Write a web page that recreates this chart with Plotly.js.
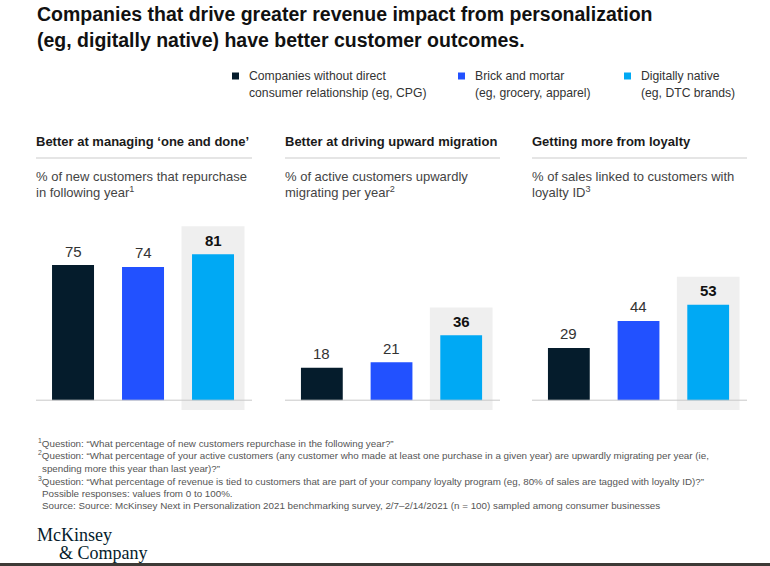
<!DOCTYPE html>
<html>
<head>
<meta charset="utf-8">
<script src="https://cdn.plot.ly/plotly-3.0.1.min.js"></script>
<style>
  html, body { margin: 0; padding: 0; background: #ffffff; }
  #chart { width: 770px; height: 566px; }
</style>
</head>
<body>
<div id="chart"></div>
<script>
// ---------------- DATA ----------------
const categories = ['Companies without direct consumer relationship', 'Brick and mortar', 'Digitally native'];
const legendLines = [
  ['Companies without direct', 'consumer relationship (eg, CPG)'],
  ['Brick and mortar', '(eg, grocery, apparel)'],
  ['Digitally native', '(eg, DTC brands)']
];
const colors = ['#051c2c', '#2251ff', '#00a9f4'];

const panelTitles = [
  'Better at managing ‘one and done’',
  'Better at driving upward migration',
  'Getting more from loyalty'
];
const panelSubtitles = [
  ['% of new customers that repurchase', 'in following year<sup>1</sup>'],
  ['% of active customers upwardly', 'migrating per year<sup>2</sup>'],
  ['% of sales linked to customers with', 'loyalty ID<sup>3</sup>']
];
const repurchase = [75, 74, 81];
const upwardMigration = [18, 21, 36];
const loyaltySales = [29, 44, 53];
const panelValues = [repurchase, upwardMigration, loyaltySales];

const titleLines = [
  'Companies that drive greater revenue impact from personalization',
  '(eg, digitally native) have better customer outcomes.'
];
const footnotes = [
  ['<sup>1</sup>', 'Question: “What percentage of new customers repurchase in the following year?”'],
  ['<sup>2</sup>', 'Question: “What percentage of your active customers (any customer who made at least one purchase in a given year) are upwardly migrating per year (ie,'],
  ['', 'spending more this year than last year)?”'],
  ['<sup>3</sup>', 'Question: “What percentage of revenue is tied to customers that are part of your company loyalty program (eg, 80% of sales are tagged with loyalty ID)?”'],
  ['', 'Possible responses: values from 0 to 100%.'],
  ['', 'Source: Source: McKinsey Next in Personalization 2021 benchmarking survey, 2/7–2/14/2021 (n = 100) sampled among consumer businesses']
];
const logoLines = ['McKinsey', '&amp; Company'];

// ---------------- LAYOUT HELPERS ----------------
const W = 770, H = 566;
const px = x => x / W;
const py = y => 1 - y / H;
const FONT = 'Liberation Sans, Arial, sans-serif';

const panelX = [[36, 252], [285, 500], [532, 747]];
const plotTop = 215, plotBottom = 411;
const highlightIndex = 2;
const highlightPad = 15.5;

const traces = [];
const shapes = [];
const annotations = [];
const layout = {
  width: W, height: H,
  margin: {l: 0, r: 0, t: 0, b: 0},
  paper_bgcolor: '#ffffff',
  plot_bgcolor: 'rgba(0,0,0,0)',
  showlegend: false,
  font: {family: FONT, color: '#333333'}
};

// chart title (two lines, placed like the reference)
const titleY = [14, 40];
titleLines.forEach((t, i) => {
  annotations.push({
    xref: 'paper', yref: 'paper', x: px(35), y: py(titleY[i]),
    xanchor: 'left', yanchor: 'middle', showarrow: false,
    text: '<b>' + t + '</b>',
    font: {family: FONT, size: 19.5, color: '#111111'}
  });
});

panelValues.forEach((vals, p) => {
  const sfx = p === 0 ? '' : String(p + 1);
  const xa = 'x' + sfx, ya = 'y' + sfx;
  layout['xaxis' + sfx] = {
    domain: [px(panelX[p][0]), px(panelX[p][1])],
    range: [-0.529, 2.557],
    type: 'category',
    categoryorder: 'array', categoryarray: categories,
    showticklabels: false, showgrid: false, zeroline: false, showline: false, ticks: '',
    anchor: ya, fixedrange: true
  };
  layout['yaxis' + sfx] = {
    domain: [py(plotBottom), py(plotTop)],
    range: [-6, 102.8],
    showticklabels: false, showgrid: false, zeroline: false, showline: false, ticks: '',
    anchor: xa, fixedrange: true
  };
  traces.push({
    type: 'bar',
    x: categories,
    y: vals,
    xaxis: xa, yaxis: ya,
    width: 0.6,
    marker: {color: colors, line: {width: 0}},
    hoverinfo: 'x+y'
  });
  // highlight column behind digitally-native bar
  shapes.push({
    type: 'rect', layer: 'below',
    xref: xa, yref: ya,
    x0: highlightIndex - 0.45, x1: highlightIndex + 0.45,
    y0: -5.5, y1: vals[highlightIndex] + highlightPad,
    fillcolor: '#efefef', line: {width: 0}
  });
  // baseline
  shapes.push({
    type: 'line', layer: 'above',
    xref: xa + ' domain', yref: ya,
    x0: 0, x1: 1, y0: 0, y1: 0,
    line: {color: '#c9c9c9', width: 1}
  });
  // value labels
  vals.forEach((v, i) => {
    const hl = i === highlightIndex;
    annotations.push({
      xref: xa, yref: ya, x: categories[i], y: v,
      text: hl ? '<b>' + v + '</b>' : String(v),
      showarrow: false, yanchor: 'middle', yshift: 14,
      font: {family: FONT, size: 15, color: hl ? '#111111' : '#333333'}
    });
  });
  // panel title
  annotations.push({
    xref: 'paper', yref: 'paper',
    x: px(panelX[p][0] - 2), y: py(141), xanchor: 'left', yanchor: 'middle',
    text: '<b>' + panelTitles[p] + '</b>', showarrow: false,
    font: {family: FONT, size: 13, color: '#1a1a1a'}
  });
  // separator line
  shapes.push({
    type: 'line', xref: 'paper', yref: 'paper',
    x0: px(panelX[p][0]), x1: px(panelX[p][1]), y0: py(158), y1: py(158),
    line: {color: '#dddddd', width: 1.5}
  });
  // subtitle (two lines)
  const subY = [176, 192];
  panelSubtitles[p].forEach((s, k) => {
    annotations.push({
      xref: 'paper', yref: 'paper',
      x: px(panelX[p][0] - 2), y: py(subY[k]), xanchor: 'left', yanchor: 'middle',
      text: s, showarrow: false, align: 'left',
      font: {family: FONT, size: 13, color: '#444444'}
    });
  });
});

// legend (custom, placed like the reference)
const legendSquareX = [232, 458, 624];
const legendTextX = [249, 475, 641];
const legendLineY = [76, 93];
legendLines.forEach((lines, i) => {
  shapes.push({
    type: 'rect', xref: 'paper', yref: 'paper',
    x0: px(legendSquareX[i]), x1: px(legendSquareX[i] + 7),
    y0: py(79.5), y1: py(72.5),
    fillcolor: colors[i], line: {width: 0}
  });
  lines.forEach((l, k) => {
    annotations.push({
      xref: 'paper', yref: 'paper',
      x: px(legendTextX[i] - 2), y: py(legendLineY[k]), xanchor: 'left', yanchor: 'middle',
      text: l, showarrow: false, align: 'left',
      font: {family: FONT, size: 12.2, color: '#333333'}
    });
  });
});

// footnotes
const footY = [443, 455.5, 468, 480.5, 493, 505.5];
footnotes.forEach((f, i) => {
  annotations.push({
    xref: 'paper', yref: 'paper',
    x: px(f[0] ? 36 : 40), y: py(footY[i]), xanchor: 'left', yanchor: 'middle',
    text: f[0] + f[1], showarrow: false, align: 'left',
    font: {family: FONT, size: 9.8, color: '#555555'}
  });
});

// logo
annotations.push({
  xref: 'paper', yref: 'paper', x: px(35), y: py(535), xanchor: 'left', yanchor: 'middle',
  text: logoLines[0], showarrow: false,
  font: {family: 'Liberation Serif, Times New Roman, serif', size: 18, color: '#051c2c'}
});
annotations.push({
  xref: 'paper', yref: 'paper', x: px(57), y: py(553), xanchor: 'left', yanchor: 'middle',
  text: logoLines[1], showarrow: false,
  font: {family: 'Liberation Serif, Times New Roman, serif', size: 18, color: '#051c2c'}
});

// bottom window edge strip
shapes.push({
  type: 'rect', xref: 'paper', yref: 'paper',
  x0: 0, x1: 1, y0: 0, y1: py(563),
  fillcolor: '#3d3a36', line: {width: 0}
});

layout.shapes = shapes;
layout.annotations = annotations;

Plotly.newPlot('chart', traces, layout, {displayModeBar: false, staticPlot: true});
</script>
</body>
</html>
